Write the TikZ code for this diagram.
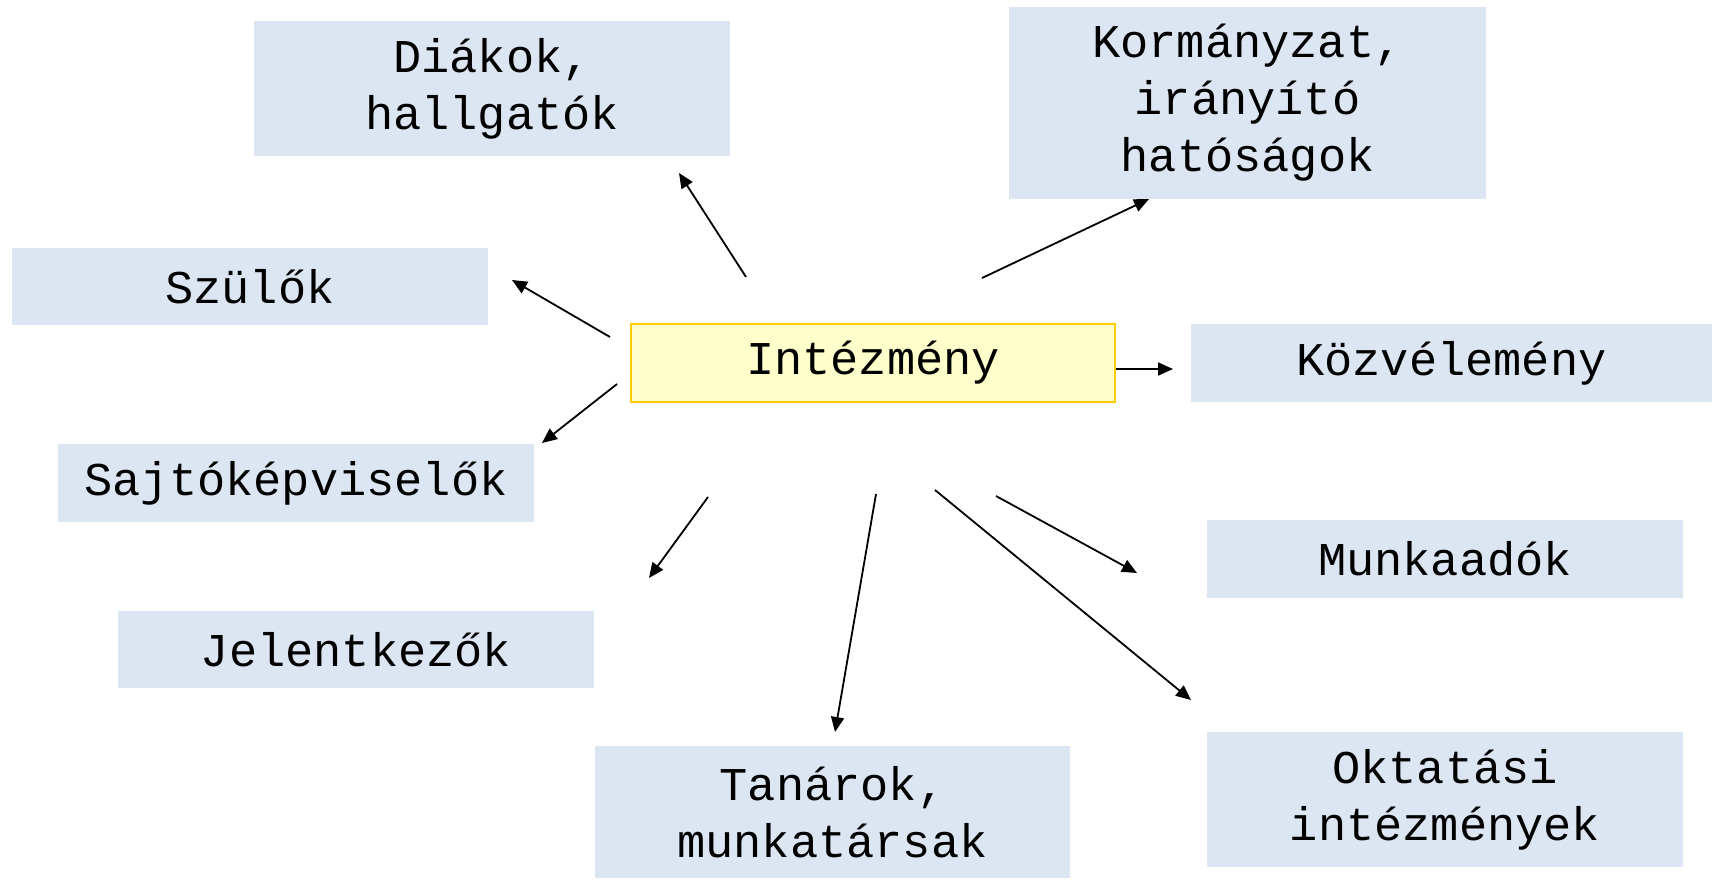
\documentclass[tikz,border=0pt]{standalone}
\usepackage{fontspec}
\setmainfont{Liberation Mono}
\usetikzlibrary{arrows.meta}
\definecolor{boxblue}{HTML}{DCE6F2}
\definecolor{boxyellow}{HTML}{FFFFCC}
\definecolor{edgeyellow}{HTML}{FFCC00}
\begin{document}
\begin{tikzpicture}[x=0.5pt,y=-0.5pt,
  bluebox/.style={fill=boxblue,draw=none,inner sep=0pt,align=center,
    font=\fontsize{23.5pt}{28.5pt}\selectfont},
  centralbox/.style={fill=boxyellow,draw=edgeyellow,line width=1pt,inner sep=0pt,align=center,
    font=\fontsize{23.5pt}{28.5pt}\selectfont},
  arr/.style={line width=0.9pt,-{Triangle[length=7.5pt,width=6.5pt]}}]
\useasboundingbox (0,0) rectangle (1716,879);
\node[bluebox,minimum width=238pt,minimum height=67.5pt] (diak) at (492,88.5) {Diákok,\\hallgatók};
\node[bluebox,minimum width=238.5pt,minimum height=96pt] (korm) at (1247.5,103) {Kormányzat,\\irányító\\hatóságok};
\node[bluebox,minimum width=238pt,minimum height=38.5pt] (szulo) at (250,286.5) {Szülők};
\node[centralbox,minimum width=242pt,minimum height=39pt] (intez) at (873,363) {Intézmény};
\node[bluebox,minimum width=260.5pt,minimum height=39pt] (kozv) at (1451.5,363) {Közvélemény};
\node[bluebox,minimum width=238pt,minimum height=39pt] (sajto) at (296,483) {Sajtóképviselők};
\node[bluebox,minimum width=238pt,minimum height=39pt] (munka) at (1445,559) {Munkaadók};
\node[bluebox,minimum width=238pt,minimum height=38.5pt] (jelent) at (356,649.5) {Jelentkezők};
\node[bluebox,minimum width=237.5pt,minimum height=66pt] (tanar) at (832.5,812) {Tanárok,\\munkatársak};
\node[bluebox,minimum width=238pt,minimum height=67.5pt] (oktat) at (1445,799.5) {Oktatási\\intézmények};
\coordinate (s1) at (746,277); \coordinate (e1) at (679,173);
\coordinate (s2) at (982,278); \coordinate (e2) at (1149,199);
\coordinate (s3) at (610,337); \coordinate (e3) at (512,280);
\coordinate (s4) at (1116,369); \coordinate (e4) at (1173,369);
\coordinate (s5) at (617,384); \coordinate (e5) at (542,443);
\coordinate (s6) at (708,497); \coordinate (e6) at (649,578);
\coordinate (s7) at (876,494); \coordinate (e7) at (835,732);
\coordinate (s8) at (935,490); \coordinate (e8) at (1191,700);
\coordinate (s9) at (996,496); \coordinate (e9) at (1137,573);
\foreach \i in {1,...,9} {\draw[arr] (s\i) -- (e\i);}
\end{tikzpicture}
\end{document}
